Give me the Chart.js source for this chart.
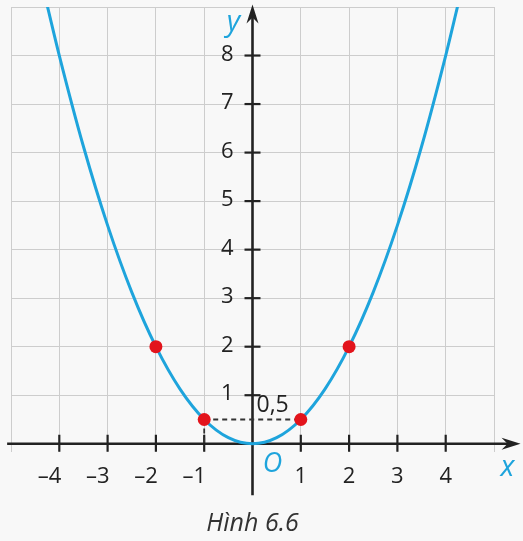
<!DOCTYPE html>
<html>
<head>
<meta charset="utf-8">
<script src="https://cdn.jsdelivr.net/npm/chart.js@4"></script>
<style>
  html, body { margin: 0; padding: 0; background: #f8f8f8; }
  canvas { display: block; }
</style>
</head>
<body>
<canvas id="chart" width="523" height="541"></canvas>
<script>
// đồ thị y = 0,5x^2
const curveX = [-4.25, -4, -3.5, -3, -2.5, -2, -1.5, -1, -0.5, 0, 0.5, 1, 1.5, 2, 2.5, 3, 3.5, 4, 4.25];
const curveY = [9.03, 8, 6.125, 4.5, 3.125, 2, 1.125, 0.5, 0.125, 0, 0.125, 0.5, 1.125, 2, 3.125, 4.5, 6.125, 8, 9.03];

// các điểm đỏ
const pointX = [-2, -1, 1, 2];
const pointY = [2, 0.5, 0.5, 2];

// đường nét đứt
const dashX = [-1, 1];
const dashY = [0.5, 0.5];
const dashDownX = [-1, -1];
const dashDownY = [0.5, 0];

// nhãn trục
const xTicks = [-4, -3, -2, -1, 1, 2, 3, 4];
const yTicks = [1, 2, 3, 4, 5, 6, 7, 8];
const halfLabel = '0,5';
const caption = 'Hình 6.6';

const toPoints = (xs, ys) => xs.map((x, i) => ({ x: x, y: ys[i] }));

const BLUE = '#1ea4dc';
const DARK = '#222';
const FONT = '"Open Sans", "Noto Sans", sans-serif';

// vẽ trục, vạch chia, nhãn
const axesPlugin = {
    id: 'axes',
    beforeDraw(chart) {
        const ctx = chart.ctx;
        ctx.save();
        ctx.fillStyle = '#f8f8f8';
        ctx.fillRect(0, 0, chart.width, chart.height);
        ctx.restore();
    },
    beforeDatasetsDraw(chart) {
        const ctx = chart.ctx;
        const xs = chart.scales.x;
        const ys = chart.scales.y;
        const x0 = xs.getPixelForValue(0);
        const y0 = ys.getPixelForValue(0);
        ctx.save();
        ctx.strokeStyle = DARK;
        ctx.fillStyle = DARK;
        ctx.lineWidth = 2.6;

        // trục Ox
        const xEnd = xs.getPixelForValue(5.55);
        ctx.beginPath();
        ctx.moveTo(xs.getPixelForValue(-5.08), y0);
        ctx.lineTo(xEnd - 8, y0);
        ctx.stroke();
        ctx.beginPath();
        ctx.moveTo(xEnd, y0);
        ctx.lineTo(xEnd - 19, y0 - 6);
        ctx.lineTo(xEnd - 13, y0);
        ctx.lineTo(xEnd - 19, y0 + 6);
        ctx.closePath();
        ctx.fill();

        // trục Oy
        const yEnd = ys.getPixelForValue(9.05);
        ctx.beginPath();
        ctx.moveTo(x0, ys.getPixelForValue(-1.06));
        ctx.lineTo(x0, yEnd + 8);
        ctx.stroke();
        ctx.beginPath();
        ctx.moveTo(x0, yEnd);
        ctx.lineTo(x0 - 6, yEnd + 19);
        ctx.lineTo(x0, yEnd + 13);
        ctx.lineTo(x0 + 6, yEnd + 19);
        ctx.closePath();
        ctx.fill();

        // vạch chia
        ctx.lineWidth = 2.2;
        xTicks.forEach(v => {
            const px = xs.getPixelForValue(v);
            ctx.beginPath();
            ctx.moveTo(px, y0 - 9);
            ctx.lineTo(px, y0 + 8);
            ctx.stroke();
        });
        yTicks.forEach(v => {
            const py = ys.getPixelForValue(v);
            ctx.beginPath();
            ctx.moveTo(x0 - 8, py);
            ctx.lineTo(x0 + 8, py);
            ctx.stroke();
        });
        ctx.restore();
    },
    afterDatasetsDraw(chart) {
        const ctx = chart.ctx;
        const xs = chart.scales.x;
        const ys = chart.scales.y;
        const x0 = xs.getPixelForValue(0);
        const y0 = ys.getPixelForValue(0);
        ctx.save();
        ctx.fillStyle = DARK;
        ctx.font = '22px ' + FONT;
        ctx.textBaseline = 'middle';

        xTicks.forEach(v => {
            const px = xs.getPixelForValue(v);
            if (v < 0) {
                ctx.textAlign = 'right';
                ctx.fillText('\u2013' + Math.abs(v), px + 2, y0 + 33);
            } else {
                ctx.textAlign = 'center';
                ctx.fillText(String(v), px, y0 + 33);
            }
        });
        ctx.textAlign = 'right';
        yTicks.forEach(v => {
            ctx.fillText(String(v), x0 - 19, ys.getPixelForValue(v) - 1);
        });

        // nhãn 0,5
        ctx.textAlign = 'left';
        ctx.font = '23px ' + FONT;
        ctx.fillText(halfLabel, x0 + 4, ys.getPixelForValue(0.5) - 14);

        // tên trục
        ctx.fillStyle = BLUE;
        ctx.font = 'italic 27px ' + FONT;
        ctx.textAlign = 'center';
        ctx.fillText('O', x0 + 20, y0 + 21);
        ctx.font = 'italic 29px ' + FONT;
        ctx.fillText('x', xs.getPixelForValue(5.28), y0 + 24);
        ctx.fillText('y', x0 - 19, ys.getPixelForValue(8.68));

        // chú thích
        ctx.fillStyle = '#333';
        ctx.font = 'italic 25px ' + FONT;
        ctx.fillText(caption, x0, chart.height - 17);
        ctx.restore();
    }
};

const gridColor = c => Number.isInteger(c.tick.value) ? '#cdcdcd' : 'rgba(0,0,0,0)';

new Chart(document.getElementById('chart'), {
    type: 'scatter',
    data: {
        datasets: [
            {
                label: 'điểm',
                data: toPoints(pointX, pointY),
                pointRadius: 6.5,
                pointBackgroundColor: '#e3141c',
                pointBorderWidth: 0,
                showLine: false
            },
            {
                label: 'y = 0,5x²',
                data: toPoints(curveX, curveY),
                showLine: true,
                borderColor: BLUE,
                borderWidth: 3,
                pointRadius: 0,
                cubicInterpolationMode: 'monotone'
            },
            {
                label: 'ngang',
                data: toPoints(dashX, dashY),
                showLine: true,
                borderColor: '#333',
                borderWidth: 1.8,
                borderDash: [5, 4],
                pointRadius: 0
            },
            {
                label: 'dọc',
                data: toPoints(dashDownX, dashDownY),
                showLine: true,
                borderColor: '#333',
                borderWidth: 1.8,
                borderDash: [5, 4],
                pointRadius: 0
            }
        ]
    },
    options: {
        responsive: false,
        animation: false,
        layout: { padding: { left: 11, right: 29, top: 7, bottom: 89 } },
        plugins: {
            legend: { display: false },
            tooltip: { enabled: false }
        },
        scales: {
            x: {
                type: 'linear',
                min: -5,
                max: 5,
                ticks: { display: false, stepSize: 1 },
                grid: { color: gridColor, lineWidth: 1, drawTicks: false },
                border: { display: false },
                afterFit: s => { s.height = 0; }
            },
            y: {
                type: 'linear',
                min: -0.17,
                max: 9,
                ticks: { display: false, stepSize: 1 },
                grid: { color: gridColor, lineWidth: 1, drawTicks: false },
                border: { display: false },
                afterFit: s => { s.width = 0; }
            }
        }
    },
    plugins: [axesPlugin]
});
</script>
</body>
</html>
